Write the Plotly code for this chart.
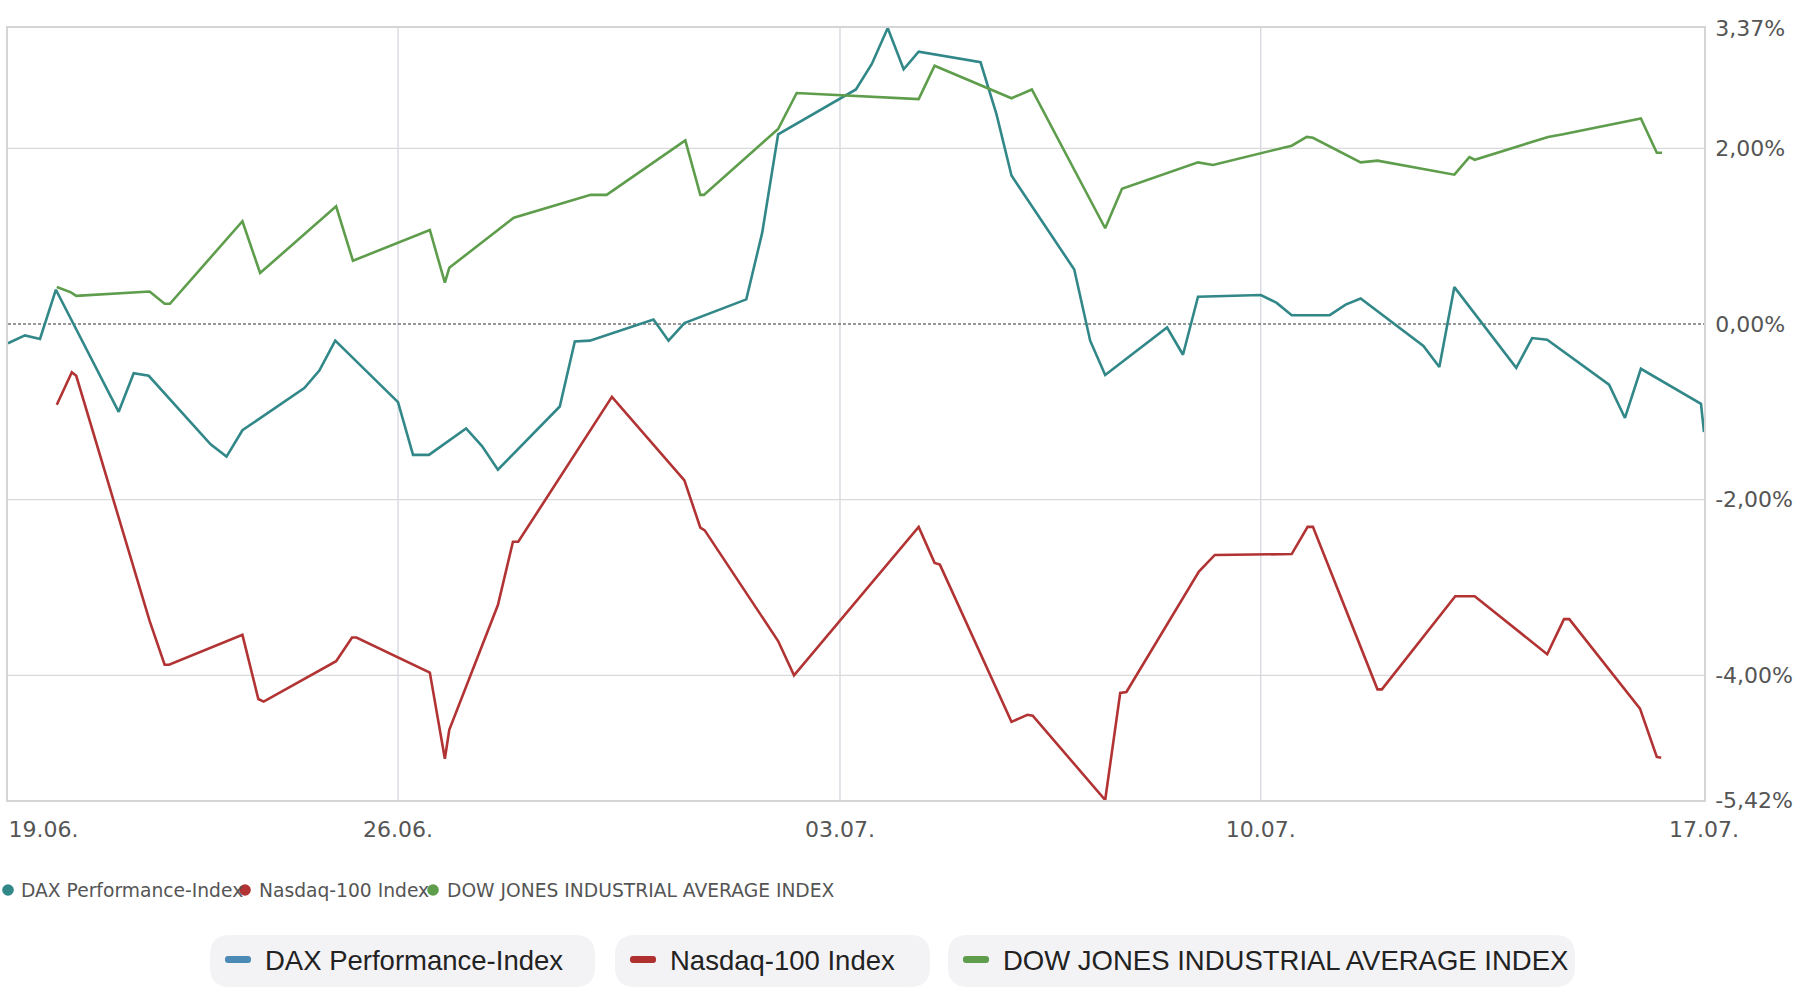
import plotly.graph_objects as go

# ---------------- data (x in trading-day units, y in % performance) ----------------
dax_x = [0.588, 0.78, 0.95, 1.13, 1.84, 2.01, 2.18, 2.88, 3.06, 3.24, 3.94, 4.11, 4.29,
         5.00, 5.17, 5.35, 5.77, 5.95, 6.13, 6.83, 7.00, 7.17, 7.89, 8.06, 8.24, 8.94,
         9.12, 9.30, 10.18, 10.36, 10.54, 10.72, 10.89, 11.59, 11.77, 11.94, 12.65, 12.83,
         13.00, 13.70, 13.88, 14.05, 14.76, 14.94, 15.11, 15.54, 15.72, 15.89, 16.60,
         16.78, 16.95, 17.65, 17.83, 18.00, 18.70, 18.88, 19.06, 19.74, 19.774]
dax_y = [-0.22, -0.13, -0.17, 0.39, -1.00, -0.56, -0.59, -1.37, -1.51, -1.21, -0.73, -0.53, -0.19,
         -0.89, -1.49, -1.49, -1.19, -1.39, -1.66, -0.94, -0.20, -0.19, 0.05, -0.19, 0.01, 0.28,
         1.04, 2.16, 2.67, 2.96, 3.37, 2.90, 3.10, 2.98, 2.39, 1.69, 0.62, -0.19,
         -0.58, -0.04, -0.35, 0.31, 0.33, 0.24, 0.10, 0.10, 0.22, 0.29, -0.25,
         -0.49, 0.42, -0.50, -0.16, -0.18, -0.69, -1.07, -0.51, -0.91, -1.23]

ndx_x = [1.14, 1.31, 1.36, 2.19, 2.36, 2.41, 3.24, 3.42, 3.48, 4.30, 4.48, 4.53, 5.36, 5.53,
         5.58, 6.13, 6.30, 6.36, 7.42, 8.24, 8.42, 8.47, 9.30, 9.48, 10.89, 11.07, 11.13,
         11.94, 12.12, 12.18, 13.00, 13.17, 13.24, 14.06, 14.24, 15.11, 15.29, 15.35, 16.08,
         16.13, 16.96, 17.18, 18.00, 18.19, 18.25, 19.05, 19.24, 19.29]
ndx_y = [-0.92, -0.55, -0.59, -3.38, -3.88, -3.88, -3.54, -4.27, -4.30, -3.84, -3.57, -3.57, -3.97, -4.95,
         -4.62, -3.20, -2.48, -2.48, -0.83, -1.78, -2.32, -2.35, -3.61, -4.00, -2.31, -2.72, -2.74,
         -4.53, -4.45, -4.46, -5.42, -4.20, -4.19, -2.82, -2.63, -2.62, -2.31, -2.31, -4.16,
         -4.16, -3.10, -3.10, -3.76, -3.36, -3.36, -4.38, -4.93, -4.94]

dow_x = [1.14, 1.30, 1.36, 2.19, 2.36, 2.42, 3.24, 3.44, 4.30, 4.49, 5.36, 5.53, 5.58, 6.31,
         7.18, 7.36, 8.25, 8.42, 8.46, 9.30, 9.51, 10.89, 11.07, 11.94, 12.17, 13.00, 13.19,
         14.05, 14.22, 15.11, 15.28, 15.35, 15.89, 16.08, 16.95, 17.12, 17.18, 18.01, 18.18,
         19.06, 19.24, 19.30]
dow_y = [0.42, 0.36, 0.32, 0.37, 0.23, 0.23, 1.17, 0.58, 1.34, 0.72, 1.07, 0.47, 0.64, 1.21,
         1.47, 1.47, 2.09, 1.47, 1.47, 2.22, 2.63, 2.56, 2.94, 2.57, 2.67, 1.09, 1.54,
         1.84, 1.81, 2.03, 2.13, 2.12, 1.84, 1.86, 1.70, 1.90, 1.87, 2.13, 2.16,
         2.34, 1.95, 1.95]

series_names = ["DAX Performance-Index", "Nasdaq-100 Index", "DOW JONES INDUSTRIAL AVERAGE INDEX"]
line_colors = ["#328888", "#b23333", "#5e9d4b"]
button_colors = ["#4a8ab5", "#b03030", "#5e9d4b"]

x_range = [0.588, 19.774]
x_tick_pos = [0.99, 5.0, 10.0, 14.76, 19.774]
x_tick_text = ["19.06.", "26.06.", "03.07.", "10.07.", "17.07."]
x_grid = [5.0, 10.0, 14.76]

y_range = [-5.42, 3.37]
y_tick_vals = [3.37, 2.0, 0.0, -2.0, -4.0, -5.42]
y_tick_text = ["3,37%", "2,00%", "0,00%", "-2,00%", "-4,00%", "-5,42%"]
y_grid = [2.0, -2.0, -4.0]

# ---------------- layout geometry (pixels) ----------------
W, H = 1796, 996
L, T, R, B = 8, 28, 92, 196
PW, PH = W - L - R, H - T - B


def px(xp):
    return (xp - L) / PW


def py(yp):
    return (T + PH - yp) / PH


def rrect(x0, y0, x1, y1, r):
    pts = [("M", [(x0 + r, y0)]), ("L", [(x1 - r, y0)]), ("Q", [(x1, y0), (x1, y0 + r)]),
           ("L", [(x1, y1 - r)]), ("Q", [(x1, y1), (x1 - r, y1)]), ("L", [(x0 + r, y1)]),
           ("Q", [(x0, y1), (x0, y1 - r)]), ("L", [(x0, y0 + r)]), ("Q", [(x0, y0), (x0 + r, y0)])]
    s = ""
    for cmd, cs in pts:
        s += cmd + " " + " ".join(f"{px(a):.5f},{py(b):.5f}" for a, b in cs) + " "
    return s + "Z"


fig = go.Figure()
for xs, ys, name, col in zip([dax_x, ndx_x, dow_x], [dax_y, ndx_y, dow_y], series_names, line_colors):
    fig.add_trace(go.Scatter(x=xs, y=ys, mode="lines", name=name,
                             line=dict(color=col, width=2.6), showlegend=False,
                             hoverinfo="skip"))

shapes = []
for gx in x_grid:
    shapes.append(dict(type="line", xref="x", yref="paper", x0=gx, x1=gx, y0=0, y1=1,
                       line=dict(color="#cfd3da", width=1.2), layer="below"))
for gy in y_grid:
    shapes.append(dict(type="line", xref="paper", yref="y", x0=0, x1=1, y0=gy, y1=gy,
                       line=dict(color="#d9d9d9", width=1.2), layer="below"))
shapes.append(dict(type="line", xref="paper", yref="y", x0=0, x1=1, y0=0, y1=0,
                   line=dict(color="#333333", width=1.1, dash="3px,2px"), layer="below"))

# buttons
buttons = [(210, 595, 225, 263), (615, 930, 630, 668), (948, 1575, 963, 1001)]
annotations = []
for (bx0, bx1, mx, tx), name, col in zip(buttons, series_names, button_colors):
    shapes.append(dict(type="path", xref="paper", yref="paper", path=rrect(bx0, 935, bx1, 987, 20),
                       fillcolor="#f3f3f6", line=dict(width=0), layer="below"))
    shapes.append(dict(type="path", xref="paper", yref="paper", path=rrect(mx, 956, mx + 26, 963, 3),
                       fillcolor=col, line=dict(width=0)))
    annotations.append(dict(xref="paper", yref="paper", x=px(tx), y=py(960), xanchor="left",
                            yanchor="middle", showarrow=False, text=name,
                            font=dict(family="Liberation Sans, Arial", size=27.5, color="#222222")))

# small legend row: dot (shape) + text, items packed tightly as in the reference
small = [(8, 18.5), (245, 257), (433, 444.5)]
rd = 5.8
for (cx, tx), name, col in zip(small, series_names, line_colors):
    shapes.append(dict(type="circle", xref="paper", yref="paper",
                       x0=px(cx - rd), x1=px(cx + rd), y0=py(890 + rd), y1=py(890 - rd),
                       fillcolor=col, line=dict(width=0)))
    annotations.append(dict(xref="paper", yref="paper", x=px(tx), y=py(890), xanchor="left",
                            yanchor="middle", showarrow=False, text=name,
                            font=dict(family="DejaVu Sans", size=18.7, color="#555555")))

axis_font = dict(family="DejaVu Sans", size=22, color="#555555")
fig.update_layout(
    width=W, height=H, margin=dict(l=L, r=R, t=T, b=B, autoexpand=False),
    paper_bgcolor="white", plot_bgcolor="white",
    shapes=shapes, annotations=annotations,
    xaxis=dict(range=x_range, tickmode="array", tickvals=x_tick_pos, ticktext=x_tick_text,
               showgrid=False, zeroline=False, showline=True, mirror=True,
               linecolor="#d5d5d5", linewidth=1.5, ticks="", tickfont=axis_font,
               ticklabelstandoff=9, automargin=False, fixedrange=True),
    yaxis=dict(range=y_range, side="right", tickmode="array", tickvals=y_tick_vals,
               ticktext=y_tick_text, showgrid=False, zeroline=False, showline=True,
               mirror=True, linecolor="#d5d5d5", linewidth=1.5, ticks="", tickfont=axis_font,
               ticklabelstandoff=5, automargin=False, fixedrange=True),
    hovermode=False,
)

fig.write_html("out.html", config={"displayModeBar": False},
               post_script="document.body.style.margin='0';")
